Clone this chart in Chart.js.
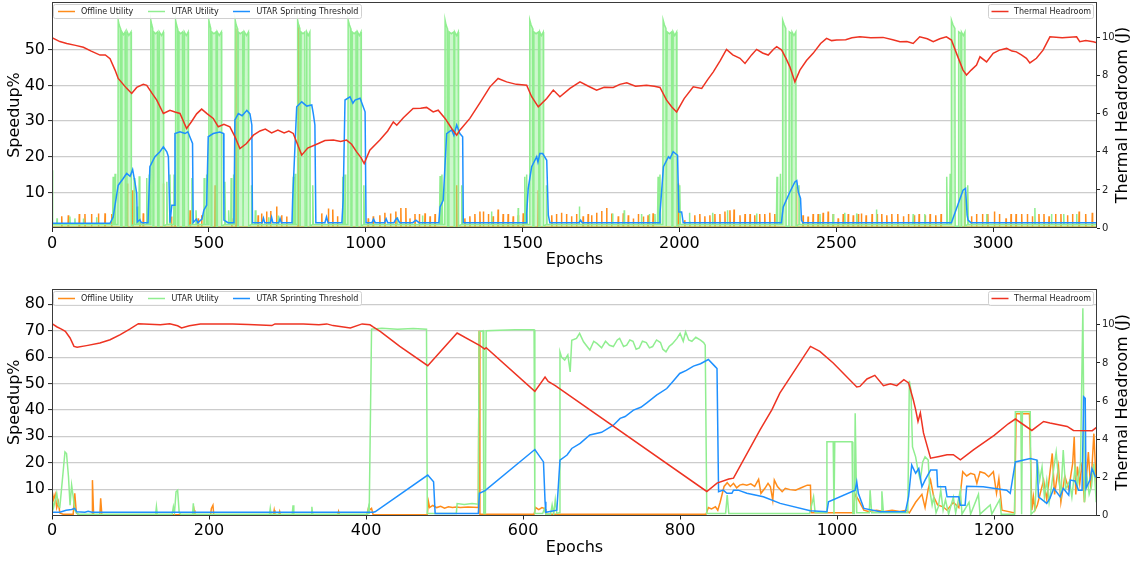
<!DOCTYPE html>
<html><head><meta charset="utf-8">
<script src="https://cdn.jsdelivr.net/npm/chart.js@4.4.1/dist/chart.umd.min.js"></script>
<style>
html,body{margin:0;padding:0;background:#fff;width:1139px;height:561px;overflow:hidden}
canvas{position:absolute;left:0}
#c1{top:0}
#c2{top:280px}
</style></head><body>
<canvas id="c1" width="1139" height="280"></canvas>
<canvas id="c2" width="1139" height="281"></canvas>
<script>
// ---------------- DATA (epoch, value) ----------------
const seriesNames = ['Offline Utility','UTAR Utility','UTAR Sprinting Threshold','Thermal Headroom'];
const topXTicks = [0,500,1000,1500,2000,2500,3000];
const topYTicks = [10,20,30,40,50];
const botXTicks = [0,200,400,600,800,1000,1200];
const botYTicks = [10,20,30,40,50,60,70,80];
const rightTicks = [0,2,4,6,8,10];

const topThermal = [[0,10.0],[25,9.8],[47,9.7],[75,9.6],[100,9.5],[125,9.3],[153,9.09],[170,9.1],[185,8.9],[201,8.3],[211,7.86],[238,7.34],[254,7.07],[270,7.39],[291,7.55],[302,7.5],[318,7.1],[334,6.72],[355,6.02],[376,6.19],[392,6.1],[408,6.02],[429,5.23],[445,5.6],[461,6.0],[477,6.25],[495,6.0],[514,5.76],[530,5.32],[548,5.45],[567,5.32],[583,4.8],[599,4.18],[620,4.44],[642,4.88],[663,5.1],[680,5.2],[700,5.0],[720,5.15],[740,5.0],[755,5.1],[769,4.97],[796,3.83],[815,4.2],[849,4.44],[870,4.6],[897,4.62],[920,4.55],[939,4.62],[955,4.4],[971,4.0],[985,3.7],[995,3.39],[1013,4.09],[1045,4.62],[1070,5.1],[1088,5.58],[1099,5.4],[1120,5.8],[1151,6.28],[1175,6.3],[1194,6.34],[1215,6.1],[1231,6.19],[1253,5.76],[1274,5.23],[1290,4.88],[1300,5.14],[1332,5.76],[1365,6.6],[1396,7.42],[1422,7.86],[1449,7.68],[1480,7.55],[1513,7.51],[1529,6.9],[1550,6.37],[1577,6.81],[1598,7.25],[1619,6.9],[1651,7.34],[1683,7.68],[1710,7.45],[1736,7.25],[1760,7.4],[1789,7.39],[1810,7.55],[1832,7.63],[1860,7.45],[1895,7.51],[1920,7.45],[1938,7.39],[1959,6.72],[1975,6.37],[1991,6.1],[2015,6.8],[2044,7.42],[2071,7.34],[2090,7.8],[2108,8.21],[2130,8.8],[2150,9.39],[2170,9.1],[2193,8.92],[2209,8.65],[2230,9.1],[2246,9.39],[2265,9.2],[2283,9.09],[2300,9.4],[2310,9.53],[2326,9.35],[2340,8.9],[2352,8.47],[2368,7.68],[2384,8.3],[2405,8.8],[2426,9.18],[2450,9.7],[2469,9.97],[2485,9.85],[2501,9.88],[2530,9.9],[2550,10.0],[2575,10.05],[2610,10.0],[2649,10.02],[2680,9.9],[2703,9.79],[2725,9.8],[2745,9.7],[2766,10.05],[2790,9.95],[2809,9.79],[2830,9.95],[2851,10.05],[2867,9.88],[2885,9.1],[2904,8.3],[2915,8.04],[2930,8.3],[2947,8.56],[2958,9.0],[2979,8.73],[3000,9.18],[3020,9.35],[3043,9.44],[3060,9.3],[3074,9.26],[3090,9.1],[3106,8.92],[3117,8.68],[3138,8.92],[3159,9.35],[3181,10.05],[3220,10.0],[3266,10.05],[3276,9.79],[3295,9.85],[3319,9.79],[3331,9.74]];

const topThreshold = [[0,1.3],[185,1.3],[195,3.1],[211,12],[227,13.9],[238,15.3],[249,14.5],[257,16.4],[265,12.5],[270,9.7],[272,1.7],[280,2.3],[285,1.5],[306,1.5],[312,17.2],[328,20],[344,21.4],[355,22.8],[366,21.4],[371,20],[376,1.5],[382,6.4],[389,6.4],[392,26.5],[408,27],[424,26.5],[433,27],[448,23.7],[450,1.5],[460,2.5],[465,1.5],[478,2.5],[484,5],[493,6.4],[498,25.6],[514,26.5],[535,26.9],[547,26.5],[548,2.2],[561,1.5],[580,1.5],[583,30.3],[594,32.1],[606,31.5],[621,33],[631,32],[637,28.9],[639,1.5],[670,1.5],[674,2.8],[678,1.5],[696,1.5],[700,3.0],[704,1.5],[723,1.5],[727,2.7],[731,1.5],[765,1.5],[767,7.8],[780,34],[796,35.4],[812,34.2],[828,34.5],[833,32],[838,28.9],[841,1.5],[870,1.5],[875,3.1],[880,1.5],[924,1.5],[928,7.8],[934,35.9],[950,36.8],[959,35],[966,35.9],[982,36.4],[992,34],[998,32.6],[1001,1.5],[1020,1.5],[1025,2.5],[1030,1.5],[1060,1.5],[1065,2.6],[1070,1.5],[1090,1.5],[1095,2.3],[1100,2.8],[1108,1.5],[1150,1.5],[1160,2.2],[1170,1.5],[1233,1.5],[1237,5.9],[1247,7.8],[1258,26.5],[1274,27.5],[1281,26],[1290,28.9],[1300,26.5],[1309,25.6],[1311,1.5],[1511,1.5],[1513,4.1],[1518,11.1],[1529,17.2],[1545,20],[1549,18.5],[1555,20.9],[1564,20.9],[1577,19],[1582,3.6],[1587,1.5],[1680,1.5],[1685,2.2],[1690,1.5],[1936,1.5],[1938,4.1],[1949,17.2],[1965,20],[1970,19.5],[1980,21.4],[1994,20.4],[1998,4.5],[2007,4.5],[2012,1.5],[2325,1.5],[2331,5.9],[2352,10.1],[2368,12.9],[2374,13.3],[2379,10.1],[2386,8.3],[2389,2.2],[2393,1.5],[2867,1.5],[2904,10.6],[2912,11.1],[2917,3.6],[2920,2.2],[2929,1.5],[3331,1.5]];

const topUtar = [[0,16.2],[2,1],[15,1],[16,2.7],[17,1],[56,1],[57,3.2],[58,1],[72,1],[73,2.7],[74,1],[99,1],[100,2.7],[101,1],[141,1],[142,3],[143,1],
[193,1],[195,14.4],[197,1],[200,1],[201,15.2],[203,1],[210,1],[211,58.3],[214,57],[218,56],[219,0.5],[222,0.5],[223,55],[228,54.2],[233,55],[234,0.5],[238,0.5],[239,55.2],[245,54],[252,55],[253,0.5],[261,1],[262,14],[264,1],[270,1],[271,6],[273,1],[277,1],[278,14.5],[280,1],
[300,1],[302,14],[304,1],[309,1],[310,15],[312,1],[314,1],[315,58.3],[318,57],[321,56],[322,0.5],[324,0.5],[325,55],[330,54.5],[336,55],[337,0.5],[341,0.5],[342,55],[349,54],[355,55],[356,0.5],[365,1],[366,13],[368,1],[375,1],[376,15],[378,1],
[388,1],[389,15],[391,1],[393,1],[394,58.3],[397,57],[400,56],[401,0.5],[404,0.5],[405,55],[410,54.5],[416,55],[417,0.5],[421,0.5],[422,55],[428,54],[434,55],[435,0.5],[445,1],[446,14],[448,1],[458,1],[459,5],[461,1],
[484,1],[485,14],[487,1],[492,1],[493,15],[495,1],[499,1],[500,58.3],[503,57],[506,56],[507,0.5],[509,0.5],[510,55],[516,54.5],[523,55],[524,0.5],[526,0.5],[527,55],[533,54],[540,55],[541,0.5],[550,1],[551,13],[553,1],[562,1],[563,5],[565,1],
[570,1],[571,14],[573,1],[577,1],[578,15],[580,1],[583,1],[584,58.3],[587,57],[591,56],[592,0.5],[593,0.5],[594,55],[600,54.5],[608,55],[609,0.5],[612,0.5],[613,55],[620,54],[626,55],[627,0.5],[635,1],[636,12],[638,1],[647,1],[648,5],[650,1],
[690,1],[691,3],[692,1],[720,1],[721,3.5],[722,1],
[767,1],[769,14.4],[771,1],[774,1],[775,15.2],[777,1],[782,1],[783,58.3],[786,57],[790,56],[791,0.5],[793,0.5],[794,55],[800,54.5],[806,55],[807,0.5],[811,0.5],[812,55],[817,54],[822,55],[823,0.5],[830,1],[831,12],[833,1],
[925,1],[927,14.4],[929,1],[933,1],[934,15],[936,1],[943,1],[944,58.3],[948,57],[952,56],[953,0.5],[956,0.5],[957,55],[963,54.5],[969,55],[970,0.5],[973,0.5],[974,55],[980,54],[985,55],[986,0.5],[993,1],[994,12],[996,1],
[1100,1],[1101,3],[1102,1],[1180,1],[1181,3.5],[1182,1],
[1235,1],[1237,14.6],[1239,1],[1242,1],[1243,15],[1245,1],[1252,1],[1253,58.3],[1256,57],[1260,56],[1261,0.5],[1265,0.5],[1266,55],[1273,54.5],[1281,55],[1282,0.5],[1283,0.5],[1284,55],[1290,54],[1295,55],[1296,0.5],[1305,1],[1306,12],[1308,1],
[1400,1],[1401,4.6],[1402,1],[1485,1],[1486,5.6],[1487,1],
[1505,1],[1507,14.4],[1509,1],[1512,1],[1513,15],[1515,1],[1522,1],[1523,58.3],[1527,57],[1532,56],[1533,0.5],[1535,0.5],[1536,55],[1543,54.5],[1551,55],[1552,0.5],[1554,0.5],[1555,55],[1560,54],[1566,55],[1567,0.5],[1575,1],[1576,12],[1578,1],
[1680,1],[1681,6],[1682,1],[1786,1],[1787,4.1],[1788,1],[1823,1],[1824,5],[1825,1],[1878,1],[1879,3.9],[1880,1],[1903,1],[1904,3.9],[1905,1],[1921,1],[1922,3.9],[1923,1],
[1930,1],[1932,14.4],[1934,1],[1937,1],[1938,15],[1940,1],[1947,1],[1948,58.3],[1952,57],[1957,56],[1958,0.5],[1960,0.5],[1961,55],[1968,54.5],[1975,55],[1976,0.5],[1979,0.5],[1980,55],[1985,54],[1991,55],[1992,0.5],[2000,1],[2001,12],[2003,1],
[2031,1],[2032,4.3],[2033,1],[2105,1],[2106,4.3],[2107,1],[2152,1],[2153,5],[2154,1],[2245,1],[2246,4.1],[2247,1],
[2309,1],[2311,14.4],[2313,1],[2320,1],[2322,15.2],[2324,1],[2328,1],[2329,58.3],[2334,57],[2339,56],[2340,0.5],[2349,0.5],[2350,55],[2357,54.5],[2358,0.5],[2359,55],[2365,54],[2371,55],[2372,0.5],[2380,1],[2381,12],[2383,1],
[2447,1],[2448,3.9],[2449,1],[2489,1],[2490,3.9],[2491,1],[2526,1],[2527,4.3],[2528,1],[2564,1],[2565,4.1],[2566,1],[2627,1],[2628,5.2],[2629,1],[2744,1],[2745,3.9],[2746,1],[2781,1],[2782,3.9],[2783,1],
[2850,1],[2852,14.4],[2854,1],[2861,1],[2863,15.2],[2865,1],[2866,1],[2867,58.3],[2872,57],[2878,56],[2879,0.5],[2889,0.5],[2890,55],[2897,54.5],[2898,0.5],[2899,55],[2905,54],[2910,55],[2911,0.5],[2918,1],[2919,12],[2921,1],
[2978,1],[2979,3.9],[2980,1],[3132,1],[3133,5.6],[3134,1],[3185,1],[3186,3.9],[3187,1],[3224,1],[3225,3.9],[3226,1],[3265,1],[3266,3.9],[3267,1],[3331,1]];

const topOfflineBase = 0.3;
const topOfflineSpikes = [[31,3.3],[52,3.6],[87,3.9],[105,3.9],[126,3.9],[148,4.1],[169,4.1],[190,3.9],[240,12.5],[257,10.6],[280,2.7],[291,4.1],[355,12.5],[381,3.2],[392,4.1],[440,5.0],[466,2.7],[477,3.6],[520,12],[573,2.7],[586,56],[657,3.6],[668,4.1],[684,4.6],[697,4.8],[716,6.0],[732,3.6],[748,3.2],[785,57],[860,4.1],[881,5.5],[895,5.2],[910,3.3],[971,12.5],[1008,2.7],[1024,3.3],[1045,3.6],[1061,4.3],[1079,4.1],[1096,4.6],[1112,5.6],[1128,5.6],[1141,2.7],[1157,3.9],[1171,3.9],[1189,4.1],[1205,3.3],[1221,3.9],[1290,12],[1316,2.7],[1332,3.3],[1348,3.9],[1364,4.6],[1375,4.6],[1391,3.9],[1406,3.3],[1422,5.2],[1438,3.9],[1454,3.9],[1470,3.3],[1486,3.6],[1502,4.1],[1550,10.6],[1593,3.6],[1608,3.9],[1624,4.3],[1640,3.9],[1656,3.3],[1672,3.9],[1693,3.3],[1709,3.9],[1720,3.6],[1736,4.3],[1752,4.8],[1768,5.6],[1784,4.1],[1805,3.3],[1821,4.1],[1837,3.6],[1853,2.7],[1869,3.9],[1885,3.2],[1900,3.6],[1916,4.1],[1996,12.5],[2017,2.2],[2033,1.8],[2049,3.6],[2065,3.9],[2081,3.3],[2097,3.6],[2113,3.9],[2129,3.9],[2145,4.6],[2161,5.0],[2174,5.2],[2193,3.6],[2209,3.9],[2225,3.9],[2240,3.6],[2256,3.9],[2272,3.9],[2288,4.3],[2304,3.9],[2373,11.6],[2394,3.6],[2410,3.2],[2426,3.9],[2442,3.9],[2458,4.3],[2474,4.6],[2490,3.9],[2506,2.7],[2522,3.9],[2538,3.9],[2554,3.6],[2570,3.9],[2580,4.1],[2595,3.6],[2614,3.9],[2630,3.9],[2645,3.9],[2661,3.6],[2677,3.9],[2696,3.9],[2714,3.3],[2730,3.9],[2749,3.6],[2764,3.9],[2783,3.6],[2799,3.9],[2817,3.6],[2834,3.9],[2910,10],[2931,3.3],[2947,3.9],[2966,3.9],[2983,3.9],[3004,4.6],[3020,3.9],[3041,2.7],[3057,3.9],[3073,3.9],[3091,3.9],[3109,3.9],[3125,3.3],[3146,3.9],[3162,3.9],[3178,3.3],[3199,3.9],[3216,3.9],[3237,3.6],[3253,3.9],[3274,4.6],[3295,3.9],[3316,4.3]];

const botThermal = [[0,10.06],[6,9.9],[12,9.78],[17,9.66],[23,9.31],[28,8.87],[32,8.82],[44,8.91],[61,9.05],[74,9.22],[87,9.49],[99,9.78],[110,10.06],[138,10.01],[150,10.06],[160,9.95],[165,9.84],[175,9.95],[189,10.05],[230,10.05],[250,10.02],[280,9.96],[284,10.05],[320,10.05],[340,10.0],[350,10.05],[358,9.96],[380,9.84],[395,10.05],[405,10.0],[409,9.89],[418,9.66],[443,8.87],[478.6,7.86],[516,9.57],[545,8.91],[551,8.73],[553,8.8],[615,6.51],[628,7.26],[632,7.03],[641,6.81],[834,1.26],[847,1.7],[862,1.91],[868,1.96],[902,4.5],[917,5.55],[927,6.42],[966,8.87],[978,8.61],[995,8.0],[1025,6.74],[1029,6.77],[1038,7.16],[1048,7.35],[1059,6.81],[1068,6.91],[1076,6.81],[1085,7.12],[1091,6.95],[1097,6.07],[1100,5.55],[1103,4.93],[1106,5.38],[1110,4.33],[1119,3.01],[1130,3.1],[1140,3.19],[1148,3.19],[1157,2.92],[1174,3.45],[1200,4.2],[1218,4.81],[1227,5.06],[1248,4.46],[1263,4.93],[1271,4.85],[1293,4.67],[1301,4.46],[1325,4.45],[1332,4.67]];

const botThreshold = [[0,1.2],[10,1.2],[18,2.0],[25,2.3],[29,2.7],[31.5,1.4],[42,1.2],[46,1.6],[51,1.2],[409,1.2],[411.5,1.4],[478.6,15.3],[486,12.8],[488,0.8],[543,0.8],[544.4,8.4],[551.6,9.4],[615,25],[626,20.3],[628,5.2],[629,1.2],[643,2.0],[647,21],[656,22.9],[662,25.4],[672.7,27.3],[685,30.5],[700,31.5],[715,34.2],[723.6,36.8],[730,37.5],[740.6,39.9],[750,41],[757.6,42.7],[770,45.6],[783,48.1],[790,50.5],[799.5,53.8],[808,55],[817,56.6],[826,57.5],[836,59.1],[844.7,56.4],[847,55.7],[849,9],[855,9.6],[859.6,8.4],[866,8.4],[868,9.6],[874,9.6],[885,8.4],[906,7.1],[927.5,4.6],[965.7,1.8],[987,1.4],[989,5.2],[1023,9.6],[1025,12.7],[1027,8.4],[1034,2.7],[1055,1.4],[1087,1.4],[1091,7.1],[1095,19.1],[1100,16],[1104,17.8],[1108,10.9],[1112,13.4],[1119,17.2],[1127,17.2],[1128,10.9],[1138,10.9],[1140,7.1],[1155,7.1],[1157,3.9],[1163,3.9],[1165,11.1],[1186,10.9],[1216,9.6],[1220.5,8.4],[1227,20.3],[1246,21.6],[1254.5,21],[1256.5,7.1],[1267,4.6],[1271,6.5],[1276,10.3],[1284,7.1],[1288,10.3],[1295,7.7],[1297,13.4],[1303,13.1],[1307.5,9.6],[1312,9.6],[1314,45],[1316,44.4],[1317,10.3],[1322,13.4],[1324.6,17.8],[1329,14.7],[1333,14.7]];

const botUtar = [[0,6.5],[2,3],[6,8.4],[8,4],[10,3.3],[12,9.6],[14,16],[16.5,24.1],[18.5,23.5],[21,14.7],[23,3.9],[25,11.5],[27,7.1],[29,2],[33,0.5],[132,0.5],[133,3.3],[134,0.5],[153,0.5],[154.6,3.3],[156,1],[158,9],[160,9.6],[162,1],[164,0.5],[179,0.5],[180,4.6],[181,0.5],[277,0.5],[278,2.7],[279,0.5],[306,0.5],[307,3.9],[308,0.5],[330,0.5],[331,3.3],[332,0.5],[402,0.5],[403,2.7],[404,0.5],[405,0.5],[407,70.6],[420,70.9],[440,70.6],[460,70.8],[477,70.6],[478,0.8],[515,0.8],[516,4.5],[525,4.2],[535,4.5],[543,4.3],[544,69.6],[549,70],[550,0.8],[552,0.8],[553,70],[570,70.2],[590,70.4],[614,70.4],[615,0.8],[625,0.8],[627,2.5],[629,0.5],[635,0.5],[637,4],[639,0.5],[641,6],[643,0.8],[646,1],[647,62],[649,60],[653,58.9],[657,60.8],[660,54.4],[662,66.4],[668,67.1],[672,69],[677,65.8],[685,62.7],[690,66],[694,65.2],[700,63.5],[705,66],[710,64.5],[715,64],[720,66.5],[723,67.1],[728,64],[732,64.5],[736,66.5],[740,66],[744,63],[748,63.5],[752,66],[757,65.5],[761,63.5],[765,64],[770,66.5],[775,65.5],[778,63],[782,62],[786,64],[790,65],[796,67.1],[800,69],[804,66],[807,69.6],[811,66.5],[815,66],[820,67.5],[826,66.4],[830,65.5],[832,64.5],[834,0.8],[858,0.8],[860,7.7],[862,0.8],[965,0.8],[970,7.1],[972,1],[986,1],[987,27.9],[995,27.9],[996,0.5],[997,27.9],[1019,27.9],[1020,0.8],[1022,0.8],[1023,38.7],[1025,1],[1041,1],[1042,9.6],[1044,1],[1056,1],[1057,9.2],[1059,1],[1090,1],[1092,51],[1094,47.5],[1096,26],[1100,22.2],[1103,17],[1106,13.4],[1109,20.3],[1112,22.2],[1116,21],[1118,9.6],[1121,4],[1123,7],[1126,1],[1129,3.4],[1132,9.6],[1135,2],[1138,6],[1142,0.5],[1148,7],[1151,1],[1157,9.6],[1159,0.5],[1168,5],[1170,0.5],[1180,8],[1182,0.5],[1195,4],[1197,0.5],[1207,6],[1209,0.5],[1226,0.5],[1227,39.3],[1234,39.3],[1235,0.5],[1236,39.3],[1246,39.3],[1247,0.5],[1252,2],[1255,21],[1258,13.4],[1261,18.4],[1264,7],[1267,13.4],[1270,5],[1273,10.9],[1276,18],[1279,24.1],[1282,14],[1285,8],[1288,24.8],[1291,10],[1296,13],[1299,7],[1303,18],[1306,11],[1310,20],[1313,78.5],[1315,5],[1318,15.2],[1321,8],[1324,11],[1327,19.7],[1330,5],[1333,12]];

const botOffline = [[0,9.6],[2,6],[4,8],[6,3],[8,5.2],[10,1],[14,0.5],[27,0.5],[29,8.4],[31,1],[34,0.3],[51,0.3],[51.5,13.4],[53,0.3],[61,0.3],[62,6.5],[63.5,0.3],[180,0.3],[181,2],[182,0.3],[202,0.3],[203,2.7],[205,3.9],[206,0.3],[282,0.3],[283,2],[284,0.3],[289,0.3],[290,1.5],[291,0.3],[330,0.3],[331,1.8],[332,0.3],[364,0.3],[365,1.5],[366,0.3],[401,0.3],[403,2.7],[405,2.2],[407,2.7],[409,0.3],[478,0.3],[479.5,5.2],[481,3],[485,3.8],[490,3],[495,3.5],[500,2.8],[505,3.3],[510,3],[515,3.2],[520,3],[530,3.2],[543,3],[544,70],[545,0.5],[614,0.5],[616,3],[620,2.2],[624,3],[628,2.5],[629,0.5],[833,0.5],[836,3],[840,2.5],[845,3.3],[848,2],[851,5],[856,11],[860,12.4],[864,11],[868,12.2],[872,10.5],[876,11.5],[880,11.8],[885,11.5],[890,12],[895,11],[900,13.7],[903,8.4],[908,10.3],[912,12.2],[915,10.9],[918,5.8],[920,13.4],[924,11],[930,9],[934,10.3],[940,9.8],[947,9.6],[955,10.6],[962,11.5],[966,11.5],[967,1],[1020,1],[1023,8],[1027,6],[1034,2],[1040,1.5],[1050,2],[1060,1.5],[1070,2],[1080,1.5],[1088,2],[1092,1],[1100,5],[1108,8],[1112,3],[1116,10],[1119,13.4],[1123,7.1],[1128,4],[1135,3.3],[1140,2],[1148,5],[1155,3],[1160,16.6],[1165,15],[1170,16],[1175,15.5],[1178,12.2],[1182,16.6],[1188,16],[1193,14.7],[1199,16.6],[1203,8.4],[1206,14],[1210,2],[1226,1],[1228,38.5],[1245,38.5],[1248,2],[1250,7.1],[1252,2],[1255,4],[1263,13.4],[1267,6],[1274,23.5],[1277,8],[1282,18.5],[1285,5],[1290,15],[1295,10],[1300,19.7],[1302,29.8],[1304,8],[1306,18.5],[1309,12],[1312,20],[1315,5],[1320,24],[1323,10],[1327,31],[1330,12],[1333,16]];

// ---------------- RENDERING ----------------
const FONT = '"DejaVu Sans", sans-serif';
const COLORS = {offline:'#ff8c1a', utar:'#90ee90', thr:'#1e90ff', therm:'#ee3322'};
const pts = a => a.map(p => ({x:p[0], y:p[1]}));
function spikePts(spikes, base, xmax){
  const out=[{x:0,y:base}];
  spikes.forEach(([e,h])=>{ out.push({x:e-1,y:base},{x:e,y:h},{x:e+1,y:base}); });
  out.push({x:xmax,y:base});
  return out;
}

function roundRect(ctx,x,y,w,h,r){
  ctx.beginPath();
  ctx.moveTo(x+r,y);ctx.lineTo(x+w-r,y);ctx.quadraticCurveTo(x+w,y,x+w,y+r);
  ctx.lineTo(x+w,y+h-r);ctx.quadraticCurveTo(x+w,y+h,x+w-r,y+h);
  ctx.lineTo(x+r,y+h);ctx.quadraticCurveTo(x,y+h,x,y+h-r);
  ctx.lineTo(x,y+r);ctx.quadraticCurveTo(x,y,x+r,y);ctx.closePath();
}

const decor = {
  id:'decor',
  afterDatasetsDraw(chart){
    const {ctx, chartArea:a} = chart;
    ctx.save();
    ctx.strokeStyle='#3a3a3a'; ctx.lineWidth=1;
    ctx.strokeRect(Math.round(a.left)+0.5, Math.round(a.top)+0.5, Math.round(a.right-a.left)-1, Math.round(a.bottom-a.top)-1);
    ctx.restore();
  },
  afterDraw(chart){
    const {ctx, chartArea:a} = chart;
    const ty = a.top + 9.5;
    ctx.save();
    const box = (x1,x2)=>{
      roundRect(ctx, x1+0.5, a.top+2.5, x2-x1, 14, 2);
      ctx.fillStyle='rgba(255,255,255,0.85)'; ctx.fill();
      ctx.strokeStyle='#d0d0d0'; ctx.lineWidth=1; ctx.stroke();
    };
    const item=(lx,tx,color,label)=>{
      ctx.strokeStyle=color; ctx.lineWidth=1.5;
      ctx.beginPath(); ctx.moveTo(lx,ty); ctx.lineTo(lx+17,ty); ctx.stroke();
      ctx.fillStyle='#222'; ctx.font='8px '+FONT; ctx.textBaseline='middle'; ctx.textAlign='left';
      ctx.fillText(label, tx, ty);
    };
    box(53, 361);
    item(58, 81, COLORS.offline, seriesNames[0]);
    item(148, 171.5, COLORS.utar, seriesNames[1]);
    item(233, 256.5, COLORS.thr, seriesNames[2]);
    box(988, 1093);
    item(991.5, 1014, COLORS.therm, seriesNames[3]);
    // right axis title (reads bottom-to-top)
    ctx.translate(1123, (a.top+a.bottom)/2);
    ctx.rotate(-Math.PI/2);
    ctx.fillStyle='#000'; ctx.font='16px '+FONT; ctx.textAlign='center'; ctx.textBaseline='middle';
    ctx.fillText('Thermal Headroom (J)', 0, 0);
    ctx.restore();
  }
};

function makeChart(id, cfg){
  const ds = [
    {label:seriesNames[3], data:cfg.therm, yAxisID:'y1', borderColor:COLORS.therm, order:0},
    {label:seriesNames[2], data:cfg.thr, yAxisID:'y', borderColor:COLORS.thr, order:1},
    {label:seriesNames[1], data:cfg.utar, yAxisID:'y', borderColor:COLORS.utar, order:2,
      fill: cfg.fillUtar ? 'origin' : false, backgroundColor:'rgba(144,238,144,0.45)'},
    {label:seriesNames[0], data:cfg.offline, yAxisID:'y', borderColor:COLORS.offline, order:3}
  ].map(d=>Object.assign({borderWidth:1.5, pointRadius:0, tension:0, fill:false}, d));

  return new Chart(document.getElementById(id), {
    type:'line',
    data:{datasets:ds},
    plugins:[decor],
    options:{
      responsive:false, animation:false, devicePixelRatio:1,
      layout:{padding:{top:cfg.padTop, left:0, right:0, bottom:0}},
      plugins:{legend:{display:false}, tooltip:{enabled:false}},
      scales:{
        x:{type:'linear', min:0, max:cfg.xmax,
          afterBuildTicks:s=>{s.ticks=cfg.xticks.map(v=>({value:v}));},
          afterFit:s=>{s.height=cfg.xh; s.paddingLeft=0; s.paddingRight=0;},
          ticks:{callback:v=>String(v), font:{family:FONT,size:16}, color:'#000', padding:2, maxRotation:0, autoSkip:false},
          grid:{drawOnChartArea:false, drawTicks:true, tickLength:4, tickColor:'#222', tickWidth:1},
          border:{display:false},
          title:{display:true, text:'Epochs', font:{family:FONT,size:16}, color:'#000', padding:{top:0,bottom:cfg.titlePad}}
        },
        y:{type:'linear', position:'left', min:0, max:cfg.ymax,
          afterBuildTicks:s=>{s.ticks=cfg.yticks.map(v=>({value:v}));},
          afterFit:s=>{s.width=52; s.paddingTop=0; s.paddingBottom=0;},
          ticks:{callback:v=>String(v), font:{family:FONT,size:16}, color:'#000', padding:3},
          grid:{color:'#cccccc', lineWidth:1.2, drawTicks:true, tickLength:4, tickColor:'#222', tickWidth:1},
          border:{display:false},
          title:{display:true, text:'Speedup%', font:{family:FONT,size:16}, color:'#000', padding:{top:5,bottom:0}}
        },
        y1:{type:'linear', position:'right', min:0, max:11.88,
          afterBuildTicks:s=>{s.ticks=rightTicks.map(v=>({value:v}));},
          afterFit:s=>{s.width=42; s.paddingTop=0; s.paddingBottom=0;},
          ticks:{callback:v=>String(v), font:{family:FONT,size:10}, color:'#222', padding:2},
          grid:{drawOnChartArea:false, drawTicks:true, tickLength:3, tickColor:'#222', tickWidth:1},
          border:{display:false}
        }
      }
    }
  });
}

makeChart('c1', {
  therm:pts(topThermal), thr:pts(topThreshold), utar:pts(topUtar),
  offline:spikePts(topOfflineSpikes, topOfflineBase, 3331),
  fillUtar:true, xmax:3331, xticks:topXTicks, yticks:topYTicks, ymax:63.4,
  padTop:2, xh:52, titlePad:11
});
makeChart('c2', {
  therm:pts(botThermal), thr:pts(botThreshold), utar:pts(botUtar), offline:pts(botOffline),
  fillUtar:false, xmax:1331, xticks:botXTicks, yticks:botYTicks, ymax:85.8,
  padTop:9, xh:45.5, titlePad:3.5
});
</script>
</body></html>
